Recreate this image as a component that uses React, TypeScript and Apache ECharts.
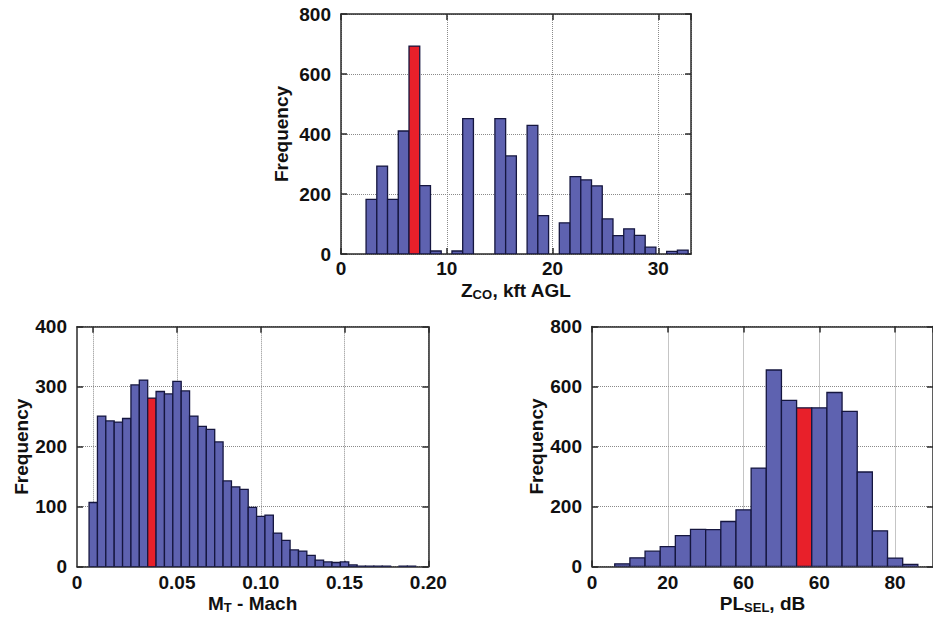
import React, { useEffect, useRef } from "react";
import * as echarts from "echarts";

// ---- Data ----
// Top: Z_CO histogram (kft AGL)
const zcoBinStart = 2.37;
const zcoBinWidth = 1.015;
const zcoCounts = [182, 293, 182, 410, 693, 228, 10, 0, 10, 451, 0, 0, 451, 327, 0, 429, 128, 0, 104, 258, 247, 227, 117, 61, 84, 62, 23, 0, 9, 13];
const zcoHighlight = 4;
const zcoTickLabels = ["0", "10", "20", "30"];

// Bottom-left: M_T histogram (Mach)
const machBinStart = -0.0025;
const machBinWidth = 0.005;
const machCounts = [107, 251, 243, 241, 247, 303, 311, 281, 292, 288, 309, 293, 251, 234, 229, 208, 143, 133, 129, 99, 84, 86, 56, 44, 28, 26, 19, 11, 8, 7, 8, 3, 1, 1, 1, 1, 0, 1, 1];
const machHighlight = 7;
const machAxisMin = -0.0097;
const machTickValues = [0, 0.05, 0.1, 0.15, 0.2];
const machLabelValues = [machAxisMin, 0.05, 0.1, 0.15, 0.2];
const machTickLabels = ["0", "0.05", "0.10", "0.15", "0.20"];

// Bottom-right: PL_SEL histogram (dB)
const plBinStart = 6;
const plBinWidth = 4;
const plCounts = [9, 29, 51, 66, 103, 124, 123, 150, 189, 328, 655, 554, 529, 529, 580, 517, 315, 119, 28, 7];
const plHighlight = 12;
const plTickValues = [0, 20, 40, 60, 80];
const plTickLabels = ["0", "20", "60", "60", "80"];

// ---- Styles ----
const FONT = "'Liberation Sans', Arial, Helvetica, sans-serif";
const BAR = "#5e62b0";
const RED = "#e8202a";
const EDGE = "#15163f";
const AXIS = "#2a2a2a";

function binData(start: number, width: number, counts: number[], hl: number) {
  return counts.map((c, i) => [start + i * width, start + (i + 1) * width, c, i === hl ? 1 : 0]);
}

function histSeries(idx: number, data: number[][]) {
  return {
    type: "custom",
    xAxisIndex: idx,
    yAxisIndex: idx,
    clip: true,
    encode: { x: [0, 1], y: 2 },
    data,
    renderItem: (params: any, api: any) => {
      const v = api.value(2);
      if (!v) return null;
      const p0 = api.coord([api.value(0), v]);
      const p1 = api.coord([api.value(1), 0]);
      return {
        type: "rect",
        shape: { x: p0[0], y: p0[1], width: p1[0] - p0[0], height: p1[1] - p0[1] },
        style: { fill: api.value(3) ? RED : BAR, stroke: EDGE, lineWidth: 1.3 },
      };
    },
  };
}

const labelStyle = { fontFamily: FONT, fontWeight: "bold" as const, fontSize: 19, color: "#111" };
const nameRich = {
  b: { fontFamily: FONT, fontWeight: "bold", fontSize: 19, color: "#111", lineHeight: 20, verticalAlign: "top" },
  s: { fontFamily: FONT, fontWeight: "bold", fontSize: 13, color: "#111", lineHeight: 6, verticalAlign: "bottom" },
};
const axisLine = { show: true, onZero: false, lineStyle: { color: AXIS, width: 1.5 } };
const tick = { show: true, inside: true, length: 6, lineStyle: { color: AXIS, width: 1.5 } };
const grid = { show: true, lineStyle: { color: "#8a8a8a", width: 1, type: "dotted" as const } };

export default function App() {
  const ref = useRef<HTMLDivElement>(null);
  useEffect(() => {
    document.body.style.margin = "0";
    const chart = echarts.init(ref.current!, null, { renderer: "svg" });

    const xBottom = (gi: number, extra: any) => ({
      type: "value",
      gridIndex: gi,
      position: "bottom",
      axisLine,
      axisTick: tick,
      splitLine: grid,
      nameLocation: "middle",
      nameTextStyle: { rich: nameRich },
      axisLabel: { ...labelStyle, margin: 6, showMaxLabel: false },
      ...extra,
    });
    const xTop = (gi: number, extra: any) => ({
      type: "value",
      gridIndex: gi,
      position: "top",
      axisLine,
      axisTick: tick,
      splitLine: { show: false },
      axisLabel: { show: false },
      ...extra,
    });
    const yLeft = (gi: number, max: number, interval: number, gap: number) => ({
      type: "value",
      gridIndex: gi,
      position: "left",
      min: 0,
      max,
      interval,
      axisLine,
      axisTick: tick,
      splitLine: grid,
      axisLabel: { ...labelStyle, margin: 10 },
      name: "Frequency",
      nameLocation: "middle",
      nameGap: gap,
      nameTextStyle: { fontFamily: FONT, fontWeight: "bold", fontSize: 19, color: "#111" },
    });
    const yRight = (gi: number, max: number, interval: number) => ({
      type: "value",
      gridIndex: gi,
      position: "right",
      min: 0,
      max,
      interval,
      axisLine,
      axisTick: tick,
      splitLine: { show: false },
      axisLabel: { show: false },
    });

    chart.setOption({
      animation: false,
      backgroundColor: "#fff",
      grid: [
        { left: 341, top: 14, width: 350.1, height: 240, show: false },
        { left: 77, top: 326.7, width: 351.3, height: 240, show: false },
        { left: 592, top: 326.5, width: 358.6, height: 240, show: false },
      ],
      xAxis: [
        xBottom(0, {
          min: 0, max: 33.1, interval: 10,
          name: "{b|Z}{s|CO}{b|, kft AGL}", nameGap: 27,
          axisLabel: { ...labelStyle, margin: 5, showMaxLabel: false, formatter: (v: number) => zcoTickLabels[Math.round(v / 10)] ?? "" },
        }),
        xBottom(1, {
          min: machAxisMin, max: 0.2,
          axisTick: { ...tick, customValues: machTickValues },
          name: "{b|M}{s|T}{b| - Mach}", nameGap: 27,
          axisLabel: {
            ...labelStyle, margin: 6, customValues: machLabelValues,
            formatter: (v: number) => {
              const i = machLabelValues.findIndex((t) => Math.abs(t - v) < 1e-6);
              return i >= 0 ? machTickLabels[i] : "";
            },
          },
        }),
        xBottom(2, {
          min: 0, max: 90, interval: 20,
          name: "{b|PL}{s|SEL}{b|, dB}", nameGap: 27,
          axisLabel: {
            ...labelStyle, margin: 6, showMaxLabel: false,
            formatter: (v: number) => {
              const i = plTickValues.indexOf(v);
              return i >= 0 ? plTickLabels[i] : "";
            },
          },
        }),
        xTop(0, { min: 0, max: 33.1, interval: 10 }),
        xTop(1, { min: machAxisMin, max: 0.2, axisTick: { ...tick, customValues: machTickValues } }),
        xTop(2, { min: 0, max: 90, interval: 20 }),
      ],
      yAxis: [
        yLeft(0, 800, 200, 50),
        yLeft(1, 400, 100, 44),
        yLeft(2, 800, 200, 45),
        yRight(0, 800, 200),
        yRight(1, 400, 100),
        yRight(2, 800, 200),
      ],
      series: [
        histSeries(0, binData(zcoBinStart, zcoBinWidth, zcoCounts, zcoHighlight)),
        histSeries(1, binData(machBinStart, machBinWidth, machCounts, machHighlight)),
        histSeries(2, binData(plBinStart, plBinWidth, plCounts, plHighlight)),
      ],
    });
    return () => chart.dispose();
  }, []);
  return <div ref={ref} style={{ width: 933, height: 620, background: "#fff" }} />;
}
